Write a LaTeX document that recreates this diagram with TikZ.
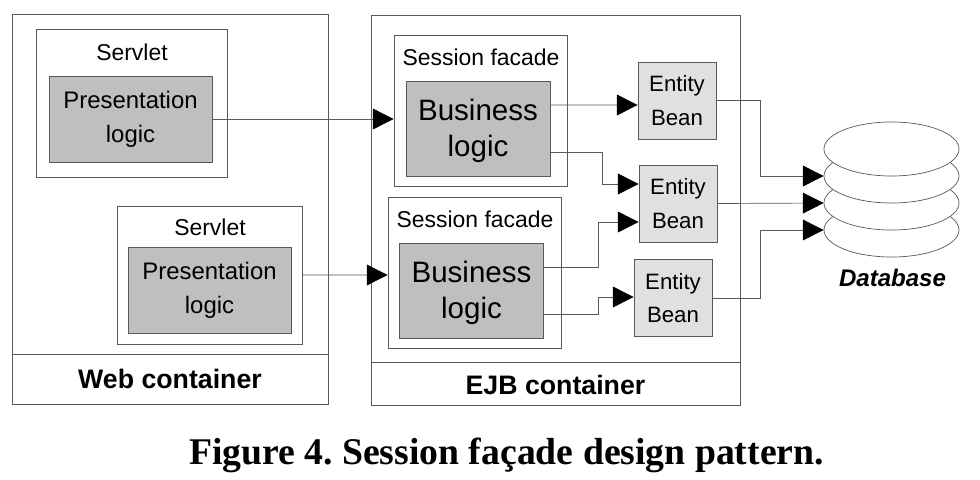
\documentclass[tikz,border=0pt]{standalone}
\usepackage{fontspec}
\setmainfont{Liberation Sans}
\newfontfamily\captionfont{Liberation Serif}
\usetikzlibrary{shapes.geometric, arrows.meta, positioning}
\definecolor{linegray}{gray}{0.35}
\tikzstyle{outer} = [rectangle, minimum width=7.9cm, minimum height=8.5cm, draw=linegray, line width=0.5pt]
\tikzstyle{footer} = [rectangle, minimum height=1.25cm, draw=linegray, line width=0.5pt, font=\fontsize{19}{23}\selectfont\bfseries]
\tikzstyle{holder} = [rectangle, draw=linegray, line width=0.5pt]
\tikzstyle{facade} = [holder, minimum width=4.325cm, minimum height=3.775cm]
\tikzstyle{title} = [font=\fontsize{16.3}{20}\selectfont, inner sep=0pt]
\tikzstyle{present} = [rectangle, minimum width=4.075cm, minimum height=2.15cm, align=center, draw=linegray, line width=0.5pt, fill=black!25, font=\fontsize{17}{24}\selectfont]
\tikzstyle{business} = [rectangle, minimum width=3.6cm, minimum height=2.375cm, draw=linegray, line width=0.5pt, fill=black!25]
\tikzstyle{bizlabel} = [align=center, inner sep=0pt, font=\fontsize{21}{26}\selectfont]
\tikzstyle{entity} = [rectangle, minimum width=1.95cm, minimum height=1.925cm, align=center, draw=linegray, line width=0.5pt, fill=black!12, font=\fontsize{15.8}{24}\selectfont]
\tikzstyle{disk} = [ellipse, minimum width=3.375cm, minimum height=1.35cm, draw=linegray, line width=0.5pt, fill=white]
\tikzstyle{arrow} = [draw=linegray, line width=0.5pt, -{Triangle[length=0.52cm,width=0.52cm,color=black]}]

\begin{document}
\begin{tikzpicture}[x=0.025cm, y=-0.025cm]
\useasboundingbox (0,0) rectangle (980,480);

% containers
\node (webbox) [outer] at (170,184) {};
\node (webfoot) [footer, minimum width=7.9cm] at (170,379) {Web container};
\node (ejbbox) [outer, minimum width=9.225cm, minimum height=8.675cm] at (555.5,188.5) {};
\node (ejbfoot) [footer, minimum width=9.225cm, minimum height=1.075cm, text height=16.5pt] at (555.5,383.5) {EJB container};

% web side
\node (servA) [holder, minimum width=4.775cm, minimum height=3.7cm] at (131.5,103) {};
\node (servAtitle) [title] at (132,52) {Servlet};
\node (presA) [present] at (130.5,119) {Presentation\\logic};
\node (servB) [holder, minimum width=4.625cm, minimum height=3.45cm] at (209.5,275) {};
\node (servBtitle) [title] at (210,227) {Servlet};
\node (presB) [present] at (209.5,290) {Presentation\\logic};

% ejb side
\node (facA) [facade] at (480.5,110.5) {};
\node (facAtitle) [title] at (481,57) {Session facade};
\node (bizA) [business] at (478,128.5) {};
\node (bizAtext) [bizlabel] at (478,131) {Business\\logic};
\node (facB) [facade] at (474.5,272.5) {};
\node (facBtitle) [title] at (475,219) {Session facade};
\node (bizB) [business] at (471.5,290.5) {};
\node (bizBtext) [bizlabel] at (471.5,293) {Business\\logic};

\node (entA) [entity] at (677,100.5) {Entity\\Bean};
\node (entB) [entity] at (678,203.5) {Entity\\Bean};
\node (entC) [entity] at (673,298) {Entity\\Bean};

% database
\node (diskD) [disk] at (891.5,230) {};
\node (diskC) [disk] at (891.5,203) {};
\node (diskB) [disk] at (891.5,176) {};
\node (diskA) [disk] at (891.5,149) {};
\node (dblabel) [font=\fontsize{17.1}{20}\selectfont\bfseries\itshape, inner sep=0pt] at (892.5,278) {Database};

\node (figcap) [font=\captionfont\fontsize{26.8}{30}\selectfont\bfseries\frenchspacing, inner sep=0pt] at (506.5,455) {Figure 4. Session façade design pattern.};

\draw [arrow] (presA.east) -- (presA.east -| facA.west);
\draw [arrow] (servB.east) -- ([yshift=-0.0625cm]facB.west);
\draw [arrow] ([yshift=0.5875cm]bizA.east) -- ([yshift=-0.1125cm]entA.west);
\draw [arrow] ([yshift=-0.5875cm]bizA.east) -- ++(52,0) |- ([yshift=0.4875cm]entB.west);
\draw [arrow] ([yshift=0.5875cm]bizB.east) -- ++(54,0) |- ([yshift=-0.4625cm]entB.west);
\draw [arrow] ([yshift=-0.5875cm]bizB.east) -- ++(54,0) |- ([yshift=0.025cm]entC.west);
\draw [arrow] (entA.east) -- ++(44,0) |- (diskB.west);
\draw [arrow] (entB.east) -- (diskC.west);
\draw [arrow] (entC.east) -- ++(48,0) |- (diskD.west);

\end{tikzpicture}
\end{document}
